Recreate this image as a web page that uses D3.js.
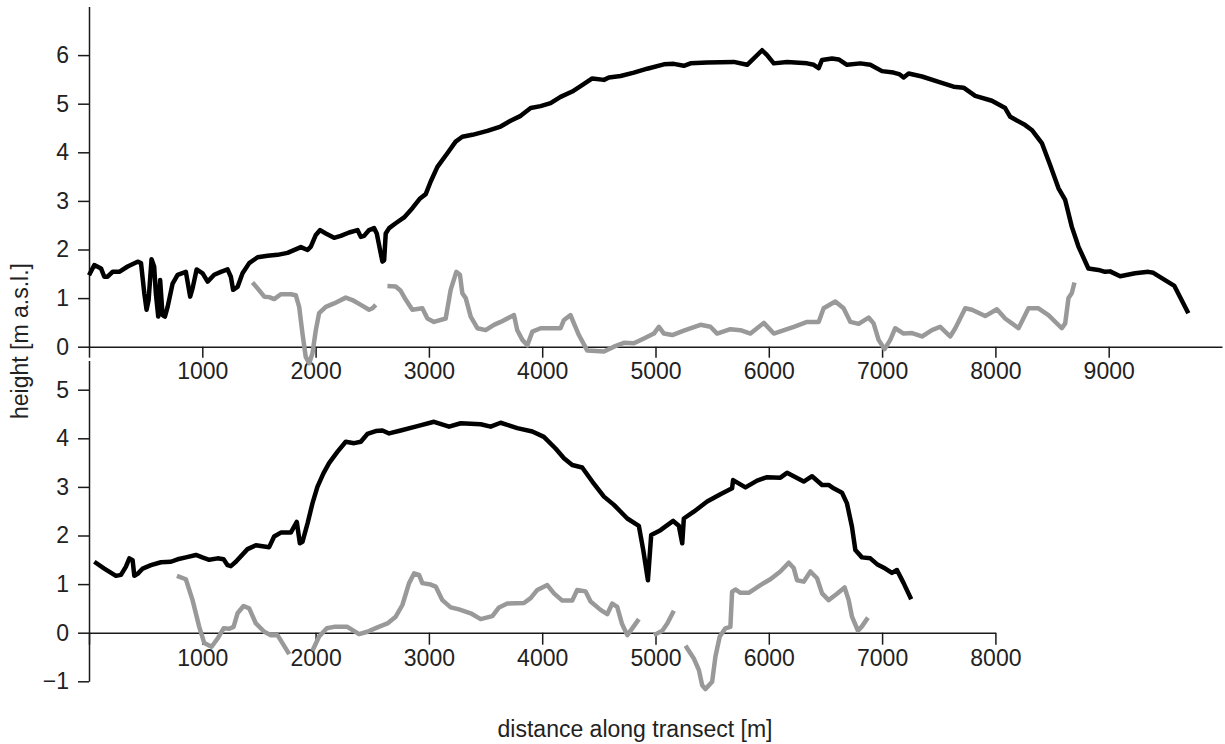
<!DOCTYPE html>
<html>
<head>
<meta charset="utf-8">
<script src="https://cdn.jsdelivr.net/npm/d3@7"></script>
<style>
  body { margin: 0; background: #fff; }
  svg { display: block; background: #fff; }
  .axis text { font-family: "Liberation Sans", Arial, sans-serif; font-size: 23px; fill: #222; }
  .axis path, .axis line { stroke: #1a1a1a; stroke-width: 1.5px; }
  .title { font-family: "Liberation Sans", Arial, sans-serif; font-size: 23px; fill: #222; }
  .profile { fill: none; stroke: #000; stroke-width: 4.5px; stroke-linejoin: round; }
  .dune { fill: none; stroke: #999; stroke-width: 4.5px; stroke-linejoin: round; }
</style>
</head>
<body>
<svg width="1225" height="744"></svg>
<script>
// upper transect: surface profile [distance m, height m]
var topProfile = [
  [0,1.47],[47,1.68],[106,1.61],[135,1.44],[164,1.44],[208,1.54],[267,1.54],[341,1.65],[429,1.75],[459,1.72],
  [488,1.10],[508,0.76],[526,0.96],[552,1.80],[575,1.65],[590,1.10],[611,0.62],[628,1.37],[649,0.65],[670,0.62],
  [694,0.82],[738,1.30],[782,1.48],[855,1.54],[893,1.03],[914,1.20],[950,1.59],[1003,1.51],[1047,1.34],[1105,1.48],
  [1164,1.54],[1223,1.59],[1252,1.44],[1272,1.17],[1311,1.23],[1355,1.51],[1414,1.72],[1488,1.84],[1576,1.87],
  [1664,1.89],[1752,1.93],[1870,2.05],[1929,1.99],[1958,2.06],[2002,2.30],[2040,2.40],[2090,2.33],[2163,2.24],
  [2222,2.28],[2296,2.35],[2370,2.40],[2399,2.26],[2428,2.28],[2472,2.40],[2516,2.44],[2540,2.33],[2575,1.92],
  [2590,1.75],[2605,1.78],[2619,2.33],[2649,2.44],[2707,2.54],[2781,2.66],[2854,2.85],[2922,3.05],[2972,3.14],
  [3016,3.40],[3075,3.70],[3163,3.98],[3236,4.22],[3295,4.32],[3384,4.36],[3516,4.44],[3633,4.53],[3721,4.65],
  [3810,4.75],[3898,4.91],[3986,4.95],[4074,5.01],[4162,5.14],[4265,5.25],[4339,5.36],[4442,5.52],[4545,5.49],
  [4589,5.54],[4692,5.57],[4809,5.64],[4927,5.72],[5074,5.81],[5162,5.82],[5250,5.78],[5309,5.83],[5456,5.85],
  [5691,5.86],[5809,5.80],[5941,6.10],[5985,6.00],[6044,5.83],[6161,5.86],[6338,5.83],[6397,5.80],[6440,5.73],
  [6470,5.90],[6558,5.93],[6617,5.91],[6690,5.80],[6808,5.83],[6896,5.80],[6999,5.67],[7101,5.64],[7150,5.61],
  [7190,5.54],[7234,5.62],[7352,5.56],[7499,5.45],[7631,5.35],[7719,5.33],[7822,5.16],[7969,5.06],[8086,4.91],
  [8131,4.73],[8263,4.56],[8321,4.46],[8410,4.19],[8483,3.74],[8557,3.26],[8616,3.02],[8674,2.47],[8733,2.06],
  [8821,1.61],[8909,1.58],[8968,1.54],[9012,1.55],[9101,1.45],[9233,1.51],[9350,1.54],[9394,1.52],[9483,1.39],
  [9580,1.25],[9703,0.69]
];

// upper transect: grey line, broken into pieces where there is no data
var topGray = [
  [[1443,1.32],[1488,1.20],[1547,1.03],[1590,1.02],[1634,0.98],[1693,1.08],[1781,1.08],[1825,1.06],[1855,0.82],
   [1884,0.27],[1913,-0.21],[1943,-0.34],[1972,-0.14],[2002,0.34],[2031,0.69],[2090,0.82],[2163,0.89],[2266,1.01],
   [2325,0.96],[2399,0.86],[2472,0.76],[2502,0.79],[2531,0.86]],
  [[2634,1.25],[2707,1.24],[2751,1.15],[2795,0.97],[2854,0.76],[2942,0.79],[2987,0.58],[3045,0.51],[3148,0.58],
   [3192,1.17],[3242,1.54],[3274,1.48],[3295,1.10],[3325,1.00],[3369,0.62],[3428,0.38],[3501,0.34],[3574,0.45],
   [3633,0.51],[3751,0.65],[3780,0.34],[3825,0.14],[3869,0.03],[3913,0.31],[3986,0.38],[4162,0.38],[4192,0.55],
   [4250,0.65],[4280,0.48],[4324,0.24],[4398,-0.08],[4545,-0.10],[4633,0.0],[4721,0.08],[4809,0.07],[4898,0.17],
   [4986,0.27],[5030,0.41],[5074,0.27],[5148,0.24],[5250,0.33],[5397,0.45],[5485,0.41],[5544,0.27],[5661,0.36],
   [5750,0.34],[5838,0.27],[5956,0.49],[6044,0.27],[6221,0.41],[6338,0.51],[6440,0.51],[6484,0.79],[6587,0.93],
   [6660,0.79],[6720,0.51],[6793,0.47],[6881,0.60],[6925,0.48],[6969,0.14],[7022,-0.05],[7072,0.14],[7116,0.38],
   [7190,0.27],[7264,0.28],[7352,0.21],[7440,0.34],[7513,0.41],[7601,0.21],[7646,0.38],[7734,0.79],[7793,0.76],
   [7910,0.63],[8013,0.77],[8086,0.58],[8204,0.38],[8292,0.79],[8380,0.79],[8468,0.65],[8586,0.38],[8616,0.48],
   [8645,1.00],[8674,1.10],[8698,1.32]]
];

// lower transect: surface profile
var bottomProfile = [
  [47,1.46],[135,1.32],[238,1.17],[282,1.19],[326,1.36],[356,1.53],[385,1.49],[400,1.17],[429,1.21],[474,1.32],
  [547,1.39],[635,1.45],[723,1.46],[782,1.51],[855,1.55],[944,1.60],[1000,1.55],[1061,1.50],[1135,1.53],[1188,1.51],
  [1223,1.39],[1252,1.37],[1296,1.46],[1399,1.72],[1473,1.80],[1561,1.77],[1590,1.76],[1634,1.98],[1693,2.06],
  [1781,2.06],[1834,2.28],[1861,1.84],[1884,1.87],[1929,2.25],[1972,2.66],[2016,3.00],[2069,3.28],[2119,3.49],
  [2192,3.72],[2266,3.93],[2340,3.90],[2399,3.93],[2457,4.09],[2531,4.15],[2590,4.16],[2649,4.10],[2751,4.16],
  [2899,4.25],[3045,4.34],[3178,4.24],[3281,4.31],[3457,4.29],[3545,4.24],[3633,4.32],[3780,4.21],[3913,4.14],
  [4015,4.03],[4118,3.79],[4192,3.59],[4265,3.45],[4353,3.40],[4442,3.11],[4545,2.80],[4633,2.63],[4751,2.35],
  [4853,2.20],[4892,1.70],[4933,1.08],[4962,2.01],[5044,2.11],[5156,2.30],[5206,2.20],[5236,1.84],[5250,2.35],
  [5338,2.49],[5456,2.70],[5573,2.85],[5676,2.97],[5685,3.14],[5794,2.99],[5897,3.13],[5985,3.20],[6102,3.19],
  [6161,3.29],[6308,3.11],[6382,3.22],[6470,3.04],[6528,3.04],[6572,2.97],[6646,2.88],[6690,2.66],[6734,2.18],
  [6764,1.70],[6822,1.55],[6896,1.53],[6955,1.41],[7028,1.32],[7087,1.23],[7131,1.29],[7190,1.02],[7257,0.69]
];

// lower transect: grey line pieces
var bottomGray = [
  [[776,1.17],[855,1.10],[914,0.67],[973,0.12],[1017,-0.21],[1082,-0.29],[1135,-0.12],[1188,0.09],[1238,0.08],
   [1276,0.12],[1311,0.40],[1364,0.55],[1414,0.50],[1473,0.19],[1547,0.02],[1605,-0.05],[1664,-0.05],[1717,-0.25],
   [1767,-0.44]],
  [[1972,-0.37],[2031,-0.08],[2099,0.09],[2163,0.12],[2280,0.12],[2384,-0.03],[2457,0.02],[2546,0.11],[2634,0.19],
   [2707,0.33],[2766,0.57],[2825,1.02],[2869,1.22],[2913,1.19],[2942,1.02],[3016,0.99],[3060,0.95],[3119,0.67],
   [3192,0.52],[3266,0.48],[3369,0.40],[3457,0.28],[3560,0.34],[3619,0.52],[3692,0.60],[3839,0.61],[3898,0.71],
   [3957,0.88],[4045,0.98],[4104,0.81],[4177,0.66],[4265,0.66],[4309,0.88],[4383,0.85],[4427,0.64],[4515,0.47],
   [4574,0.38],[4618,0.60],[4662,0.53],[4703,0.19],[4751,-0.05],[4795,0.09],[4853,0.28]],
  [[4986,-0.05],[5060,0.04],[5104,0.19],[5162,0.45]],
  [[5265,-0.27],[5338,-0.53],[5383,-0.77],[5412,-1.08],[5441,-1.16],[5500,-1.01],[5529,-0.49],[5567,-0.08],
   [5617,0.09],[5661,0.12],[5676,0.84],[5705,0.89],[5750,0.82],[5823,0.82],[5926,0.98],[6014,1.10],[6102,1.26],
   [6176,1.44],[6220,1.33],[6249,1.08],[6308,1.05],[6367,1.26],[6426,1.12],[6470,0.81],[6528,0.67],[6602,0.80],
   [6669,0.93],[6705,0.67],[6734,0.33],[6787,0.04],[6822,0.13],[6875,0.31]]
];

var topXTicks = [0, 1000, 2000, 3000, 4000, 5000, 6000, 7000, 8000, 9000];
var bottomXTicks = [0, 1000, 2000, 3000, 4000, 5000, 6000, 7000, 8000];
var topYTicks = [0, 1, 2, 3, 4, 5, 6];
var bottomYTicks = [-1, 0, 1, 2, 3, 4, 5];

var svg = d3.select("svg");

var xTop = d3.scaleLinear().domain([0, 10000]).range([89, 1222]);
var xBottom = d3.scaleLinear().domain([0, 8000]).range([89, 89 + 8000 * 0.1133]);
var yTop = d3.scaleLinear().domain([0, 7]).range([346.7, 346.7 - 7 * 48.6]);
var yBottom = d3.scaleLinear().domain([-1, 5.6]).range([632.7 + 48.6, 632.7 - 5.6 * 48.6]);

var fmtX = function(d) { return d === 0 ? "" : d3.format("d")(d); };

// axes
svg.append("g").attr("class", "axis")
    .attr("transform", "translate(0," + yTop(0) + ")")
    .call(d3.axisBottom(xTop).tickValues(topXTicks).tickFormat(fmtX)
        .tickSize(11).tickPadding(5).tickSizeOuter(0));

svg.append("g").attr("class", "axis")
    .attr("transform", "translate(" + xTop(0) + ",0)")
    .call(d3.axisLeft(yTop).tickValues(topYTicks).tickFormat(d3.format("d"))
        .tickSize(11).tickPadding(9).tickSizeOuter(0));

svg.append("g").attr("class", "axis")
    .attr("transform", "translate(0," + yBottom(0) + ")")
    .call(d3.axisBottom(xBottom).tickValues(bottomXTicks).tickFormat(fmtX)
        .tickSize(12).tickPadding(5).tickSizeOuter(0));

svg.append("g").attr("class", "axis")
    .attr("transform", "translate(" + xBottom(0) + ",0)")
    .call(d3.axisLeft(yBottom).tickValues(bottomYTicks).tickFormat(d3.format("d"))
        .tickSize(11).tickPadding(9).tickSizeOuter(0));

// lines
var lineTop = d3.line().x(function(d) { return xTop(d[0]); }).y(function(d) { return yTop(d[1]); });
var lineBottom = d3.line().x(function(d) { return xBottom(d[0]); }).y(function(d) { return yBottom(d[1]); });

svg.selectAll(".dune-top").data(topGray).enter().append("path")
    .attr("class", "dune dune-top").attr("d", lineTop);
svg.append("path").datum(topProfile).attr("class", "profile").attr("d", lineTop);

svg.selectAll(".dune-bottom").data(bottomGray).enter().append("path")
    .attr("class", "dune dune-bottom").attr("d", lineBottom);
svg.append("path").datum(bottomProfile).attr("class", "profile").attr("d", lineBottom);

// titles
svg.append("text").attr("class", "title")
    .attr("transform", "translate(28,341) rotate(-90)")
    .attr("text-anchor", "middle")
    .text("height [m a.s.l.]");

svg.append("text").attr("class", "title")
    .attr("x", 635).attr("y", 737)
    .attr("text-anchor", "middle")
    .text("distance along transect [m]");
</script>
</body>
</html>
